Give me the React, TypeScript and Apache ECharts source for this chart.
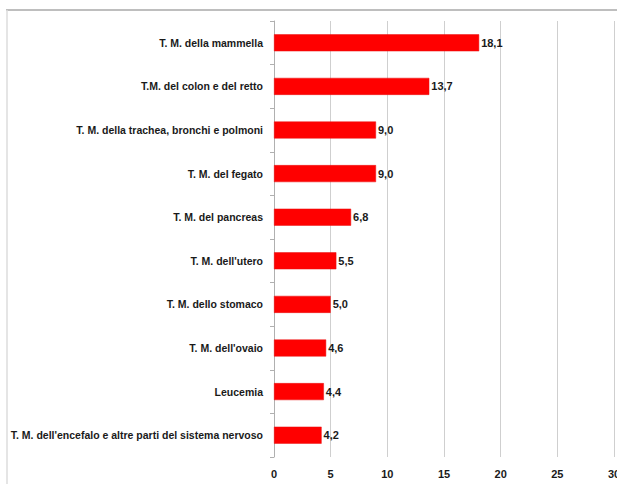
import React, { useEffect, useRef } from "react";
import * as echarts from "echarts";

const categories = [
  "T. M. della mammella",
  "T.M. del colon e del retto",
  "T. M. della trachea, bronchi e polmoni",
  "T. M. del fegato",
  "T. M. del pancreas",
  "T. M. dell'utero",
  "T. M. dello stomaco",
  "T. M. dell'ovaio",
  "Leucemia",
  "T. M. dell'encefalo e altre parti del sistema nervoso",
];
const values = [18.1, 13.7, 9.0, 9.0, 6.8, 5.5, 5.0, 4.6, 4.4, 4.2];
const xTicks = [0, 5, 10, 15, 20, 25, 30];

const FONT = "'Liberation Sans', Arial, sans-serif";

export default function App() {
  const ref = useRef<HTMLDivElement>(null);
  useEffect(() => {
    if (!ref.current) return;
    const chart = echarts.init(ref.current, null, { renderer: "svg" });
    chart.setOption({
      animation: false,
      backgroundColor: "#ffffff",
      grid: { left: 274, right: 3, top: 21, bottom: 27, containLabel: false, outerBoundsMode: "none" },
      graphic: [
        { type: "line", shape: { x1: 6, y1: 10, x2: 617, y2: 10 }, style: { stroke: "#a8a8a8", lineWidth: 1.5 } },
        { type: "line", shape: { x1: 7, y1: 10, x2: 7, y2: 484 }, style: { stroke: "#dcdcdc", lineWidth: 1.5 } },
      ],
      xAxis: {
        type: "value",
        min: xTicks[0],
        max: xTicks[xTicks.length - 1],
        interval: 5,
        axisLine: { show: false },
        axisTick: { show: false },
        splitLine: { show: true, lineStyle: { color: "#cfcfcf", width: 1 } },
        axisLabel: { color: "#1a1a1a", fontFamily: FONT, fontWeight: "bold", fontSize: 11, margin: 11 },
      },
      yAxis: {
        type: "category",
        data: categories,
        inverse: true,
        axisLine: { show: true, lineStyle: { color: "#b0b0b0" } },
        axisTick: { show: true, inside: false, length: 4, lineStyle: { color: "#b0b0b0" } },
        axisLabel: { color: "#1a1a1a", fontFamily: FONT, fontWeight: "bold", fontSize: 10.5, margin: 11 },
      },
      series: [
        {
          type: "bar",
          data: values,
          barWidth: 17,
          itemStyle: { color: "#ff0000", borderColor: "#e81010", borderWidth: 0.5 },
          label: {
            show: true,
            position: "right",
            distance: 2,
            color: "#1a1a1a",
            fontFamily: FONT,
            fontWeight: "bold",
            fontSize: 11,
            formatter: (p: any) => p.value.toFixed(1).replace(".", ","),
          },
        },
      ],
    });
    return () => chart.dispose();
  }, []);
  return (
    <div
      ref={ref}
      style={{ position: "fixed", left: 0, top: 0, width: 617, height: 484 }}
    />
  );
}
